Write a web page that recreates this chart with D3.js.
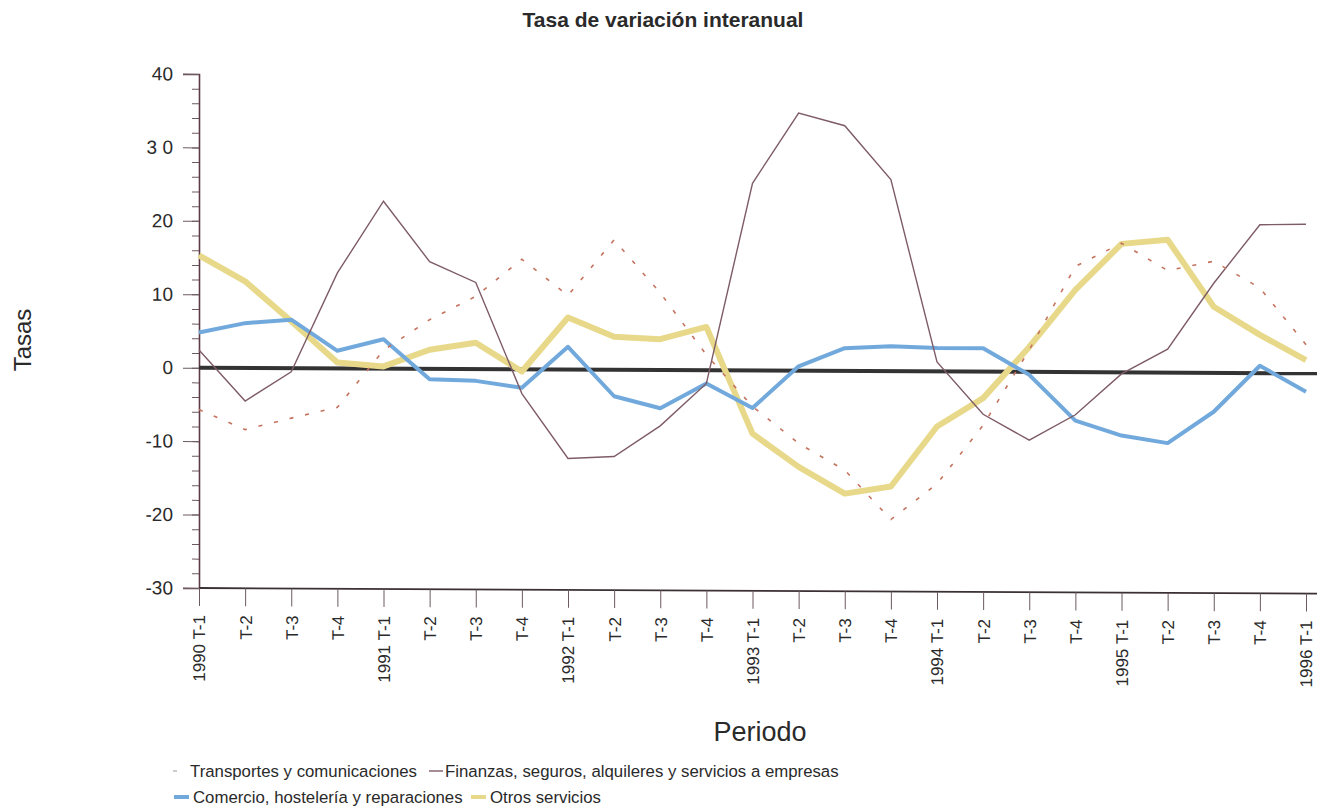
<!DOCTYPE html>
<meta charset="utf-8">
<style>
  body { margin: 0; background: #fff; }
  text { font-family: "Liberation Sans", Arial, sans-serif; fill: #2a2a2a; }
</style>
<body>
<script src="https://d3js.org/d3.v7.min.js"></script>
<script>

// periods (quarters) on the x axis
var periodos = ["1990 T-1","T-2","T-3","T-4","1991 T-1","T-2","T-3","T-4",
                "1992 T-1","T-2","T-3","T-4","1993 T-1","T-2","T-3","T-4",
                "1994 T-1","T-2","T-3","T-4","1995 T-1","T-2","T-3","T-4","1996 T-1"];

// series values
var transportes = [-5.7,-8.4,-6.8,-5.3,2.5,6.7,9.9,15.0,10.1,17.7,10.5,2.1,
                   -4.9,-9.9,-13.5,-20.2,-15.3,-7.3,3.0,14.4,17.6,13.9,15.2,11.6,3.9];
var finanzas    = [2.4,-4.5,-0.5,13.0,22.8,14.6,11.8,-3.3,-12.1,-11.8,-7.6,-1.8,
                   25.5,35.1,33.4,26.1,1.3,-5.8,-9.3,-5.8,-0.2,3.2,12.2,20.2,20.3];
var comercio    = [4.8,6.1,6.6,2.4,4.0,-1.4,-1.6,-2.5,3.1,-3.6,-5.2,-1.8,
                   -5.1,0.6,3.1,3.4,3.2,3.2,-0.4,-6.6,-8.6,-9.6,-5.3,1.0,-2.5];
var otros       = [15.3,11.8,6.4,0.8,0.3,2.6,3.6,-0.3,7.1,4.5,4.2,5.9,
                   -8.6,-13.1,-16.7,-15.7,-7.5,-3.6,3.4,11.2,17.5,18.1,9.0,5.2,1.8];

var yTicks = [-30,-20,-10,0,10,20,30,40];

// dimensions of the plot
var margin = {top: 74, left: 199},
    width = 1107,
    axisWidth = 1118,
    height = 514;

var svg = d3.select("body").append("svg")
    .attr("width", 1327)
    .attr("height", 810);

// title
svg.append("text")
    .attr("x", 663).attr("y", 27)
    .attr("text-anchor", "middle")
    .style("font-size", "21px").style("font-weight", "bold")
    .attr("fill", "#333")
    .text("Tasa de variación interanual");

// the scanned page is a little tilted, skew the plot the same way
var g = svg.append("g")
    .attr("transform", "translate(" + margin.left + "," + margin.top + ") skewY(0.29)");

var x = d3.scalePoint().domain(d3.range(periodos.length)).range([0, width]);
var y = d3.scaleLinear().domain([-30, 40]).range([height, 0]);

// minor ticks every 2
g.append("g")
    .attr("class", "minor")
    .call(d3.axisLeft(y).tickValues(d3.range(-30, 41, 2)).tickSize(7).tickFormat(""))
    .call(function(a) { a.select(".domain").remove(); a.selectAll("line").attr("stroke", "#6b5a60"); });

// y axis
g.append("g")
    .call(d3.axisLeft(y).tickValues(yTicks).tickSize(16).tickPadding(10)
      .tickFormat(function(d) { return d === 30 ? "3 0" : d; }))
    .call(function(a) {
      a.select(".domain").attr("stroke", "#5c3a48").attr("stroke-width", 1.6);
      a.selectAll("line").attr("stroke", "#6b5a60");
      a.selectAll("text").style("font-size", "19px").attr("fill", "#2a2a2a");
    });

// x axis
var xa = g.append("g")
    .attr("transform", "translate(0," + height + ")")
    .call(d3.axisBottom(x).tickSize(18).tickFormat(function(i) { return periodos[i]; }));
xa.select(".domain").attr("d", "M0,0H" + axisWidth).attr("stroke", "#3a3035").attr("stroke-width", 1.8);
xa.selectAll("line").attr("stroke", "#6b5a60");
xa.selectAll("text")
    .attr("transform", "rotate(-90)")
    .attr("x", -27).attr("y", 0).attr("dy", "0.35em")
    .attr("text-anchor", "end")
    .style("font-size", "17px").attr("fill", "#2a2a2a");

// zero line
g.append("line")
    .attr("x1", 0).attr("x2", axisWidth)
    .attr("y1", y(0)).attr("y2", y(0))
    .attr("stroke", "#333").attr("stroke-width", 4);

var line = d3.line()
    .x(function(d, i) { return x(i); })
    .y(function(d) { return y(d); });

g.append("path").datum(otros)
    .attr("d", line).attr("fill", "none")
    .attr("stroke", "#e8d98a").attr("stroke-width", 6).attr("stroke-linejoin", "round");

g.append("path").datum(comercio)
    .attr("d", line).attr("fill", "none")
    .attr("stroke", "#72a9dc").attr("stroke-width", 4).attr("stroke-linejoin", "round");

g.append("path").datum(finanzas)
    .attr("d", line).attr("fill", "none")
    .attr("stroke", "#7e5c66").attr("stroke-width", 1.4);

g.append("path").datum(transportes)
    .attr("d", line).attr("fill", "none")
    .attr("stroke", "#c4735e").attr("stroke-width", 1.6)
    .attr("stroke-dasharray", "4,12");

// axis titles
svg.append("text")
    .attr("transform", "translate(31,340) rotate(-90)")
    .attr("text-anchor", "middle")
    .style("font-size", "24px")
    .text("Tasas");

svg.append("text")
    .attr("x", 760).attr("y", 741)
    .attr("text-anchor", "middle")
    .style("font-size", "27px")
    .text("Periodo");

// legend
var legend = [
  {label: "Transportes y comunicaciones", color: "#b0a8a8", w: 1.2, x1: 173, x2: 177, row: 0, tx: 190},
  {label: "Finanzas, seguros, alquileres y servicios a empresas", color: "#7e5c66", w: 1.4, x1: 429, x2: 443, row: 0, tx: 445},
  {label: "Comercio, hostelería y reparaciones", color: "#72a9dc", w: 4, x1: 174, x2: 189, row: 1, tx: 193},
  {label: "Otros servicios", color: "#e8d98a", w: 4, x1: 471, x2: 486, row: 1, tx: 490}
];
var lg = svg.append("g").selectAll("g").data(legend).enter().append("g")
    .attr("transform", function(d) { return "translate(0," + (771 + d.row * 26) + ")"; });
lg.append("line")
    .attr("x1", function(d) { return d.x1; }).attr("x2", function(d) { return d.x2; })
    .attr("y1", 0).attr("y2", 0)
    .attr("stroke", function(d) { return d.color; })
    .attr("stroke-width", function(d) { return d.w; });
lg.append("text")
    .attr("x", function(d) { return d.tx; }).attr("y", 0).attr("dy", "0.35em")
    .style("font-size", "16.8px")
    .text(function(d) { return d.label; });

</script>
</body>
